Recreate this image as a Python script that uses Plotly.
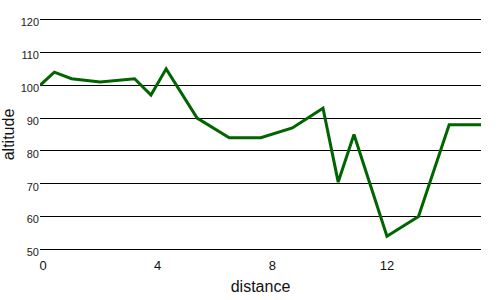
import plotly.graph_objects as go

distance = [0, 0.5, 1.1, 2.1, 3.3, 3.87, 4.4, 5.48, 6.6, 7.7, 8.8, 9.87, 10.4, 10.95, 12.1, 13.2, 14.27, 15.38]
altitude = [100, 104, 102, 101, 102, 97, 105, 90, 84, 84, 87, 93, 70.5, 85, 54, 60, 88, 88]
x_ticks = [0, 4, 8, 12]
y_ticks = [50, 60, 70, 80, 90, 100, 110, 120]

fig = go.Figure(go.Scatter(x=distance, y=altitude, mode="lines",
                           line=dict(color="#006400", width=3)))
fig.update_layout(
    width=500, height=300,
    margin=dict(l=40, r=19, t=18, b=49, autoexpand=False),
    paper_bgcolor="white", plot_bgcolor="white",
    showlegend=False,
    font=dict(family="Liberation Sans, Arial, sans-serif", color="#111"),
)
fig.update_xaxes(range=[0, 15.38], tickvals=x_ticks, showgrid=False, zeroline=False,
                 showline=False, ticks="", tickfont=dict(size=13, color="#111"),
                 ticklabelshift=3, ticklabelstandoff=5, automargin=False,
                 title=dict(text="distance", font=dict(size=16), standoff=8))
fig.update_yaxes(range=[49.5, 120.5], tickvals=y_ticks, showgrid=True, gridcolor="black",
                 gridwidth=1, zeroline=False, showline=False, ticks="", automargin=False,
                 tickfont=dict(size=11, color="#222"), ticklabelshift=3,
                 title=dict(text="altitude", font=dict(size=16), standoff=2))
fig.write_html("out.html")
